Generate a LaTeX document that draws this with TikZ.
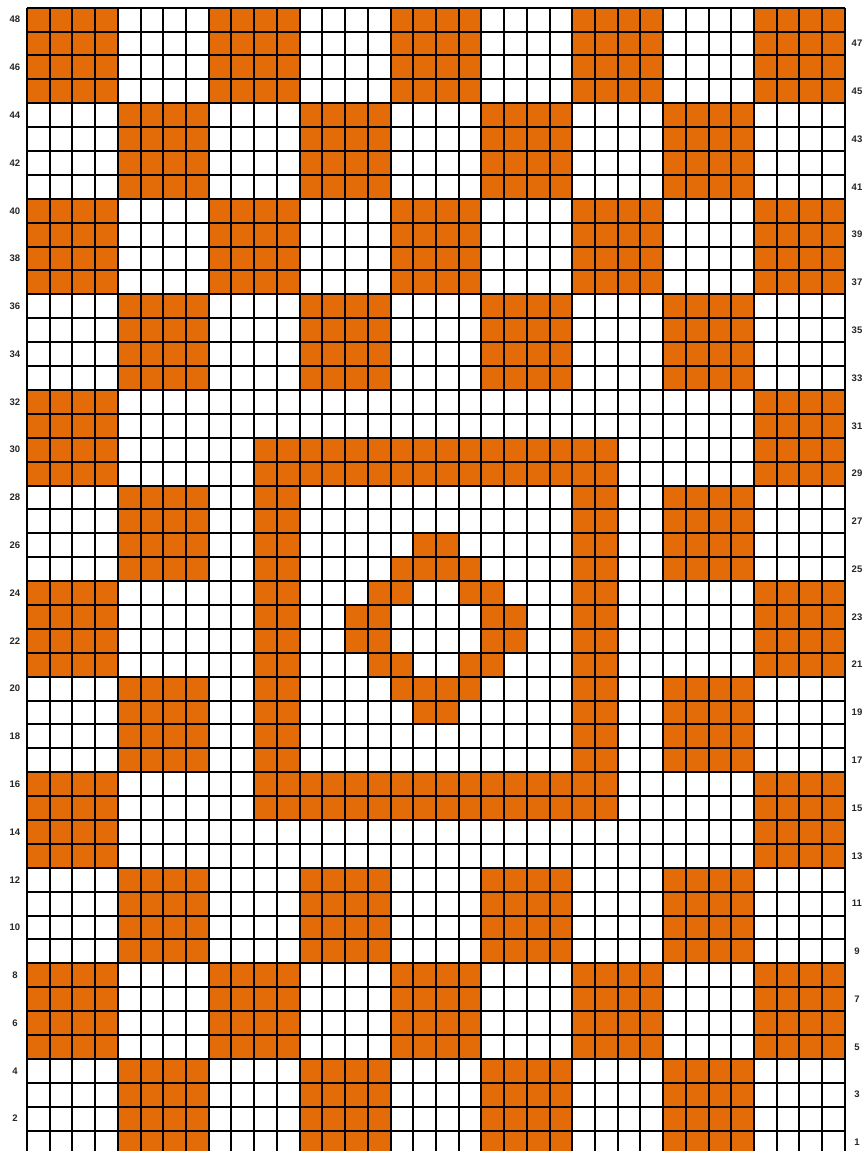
\documentclass[tikz,border=0pt]{standalone}
\usepackage{fontspec}
\setmainfont{Liberation Sans}
\definecolor{knit}{HTML}{E36C09}
\begin{document}
\begin{tikzpicture}[x=22.72pt,y=-23.89pt,
  gridline/.style={line width=2pt,black},
  rowlabel/.style={font=\bfseries\fontsize{9.5}{10}\selectfont, text=black!85, inner sep=0pt}]
\useasboundingbox (-27pt,7.7pt) rectangle (836pt,-1143.3pt);
\fill[white] (-27pt,7.7pt) rectangle (836pt,-1143.3pt);
\begin{scope}
\clip (-27pt,7.7pt) rectangle (836pt,-1143.3pt);
% checkerboard of 4x4 blocks
\foreach \i in {0,...,8} {
  \foreach \r in {0,...,11} {
    \pgfmathtruncatemacro\blkodd{mod(\i+\r,2)}
    \ifnum\blkodd=0 \fill[knit] (4*\i,4*\r) rectangle (4*\i+4,4*\r+4); \fi
  }
}
% centre panel
\fill[white] (8,16) rectangle (28,36);
\fill[knit] (10,18) rectangle (26,34);
\fill[white] (12,20) rectangle (24,32);
% diamond motif (column,row)
\foreach \c/\n in {18/26,19/26,
  17/25,18/25,19/25,20/25,
  16/24,17/24,20/24,21/24,
  15/23,16/23,21/23,22/23,
  15/22,16/22,21/22,22/22,
  16/21,17/21,20/21,21/21,
  17/20,18/20,19/20,20/20,
  18/19,19/19} {
  \fill[knit] (\c-1,48-\n) rectangle (\c,49-\n);
}
% grid
\foreach \c in {0,...,36} \draw[gridline] (\c,0) -- (\c,48);
\foreach \n in {0,...,48} \draw[gridline] (0,\n) -- (36,\n);
\end{scope}
% row numbers
\foreach \n in {1,...,48} {
  \pgfmathtruncatemacro\rowodd{mod(\n,2)}
  \ifnum\rowodd=0
    \node[rowlabel] (lab\n) at ([xshift=-12pt]0,48.5-\n) {\n};
  \else
    \node[rowlabel] (lab\n) at ([xshift=830pt]0,48.5-\n) {\n};
  \fi
}
\end{tikzpicture}
\end{document}
